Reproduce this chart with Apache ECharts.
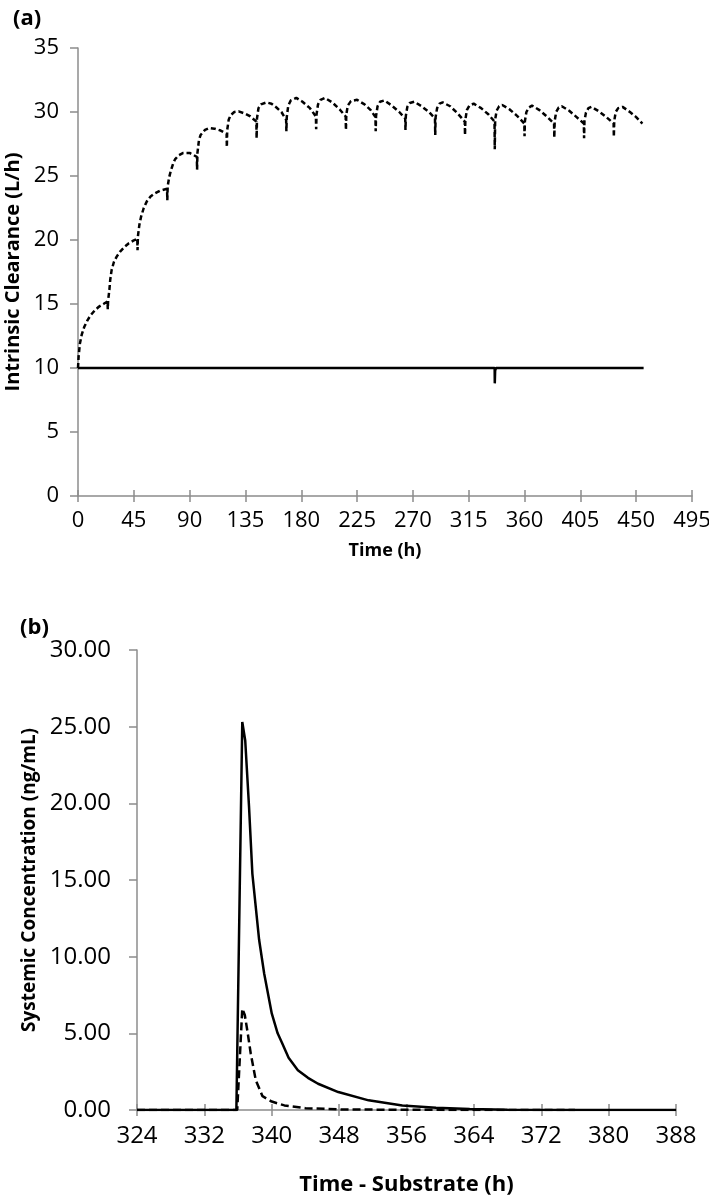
<!DOCTYPE html>
<html>
<head>
<meta charset="utf-8">
<script src="https://cdn.jsdelivr.net/npm/echarts@6/dist/echarts.min.js"></script>
<style>
  html, body { margin: 0; padding: 0; background: #fff; }
  #chart { width: 709px; height: 1204px; }
</style>
</head>
<body>
<div id="chart"></div>
<script>
// panel (a): intrinsic clearance over time, [time h, CL L/h]
const clTicksX = [0, 495, 45];
const clTicksY = [0, 35, 5];
const inducedCL = [
  [0, 10], [0.5, 10.9], [1.5, 11.9], [3, 12.6], [5, 13.2], [7.5, 13.7], [10, 14.1], [13.5, 14.5], [17, 14.8], [20.5, 15.0], [23.8, 15.2],
  [24, 14.6], [24.3, 15.3], [25.3, 16.1], [26, 16.9], [27.1, 17.65], [29, 18.3], [31.2, 18.7], [34, 19.1], [37.9, 19.5], [41, 19.75], [44.6, 19.95], [47.8, 20.1],
  [48, 19.2], [48.3, 20.3], [49.5, 21.2], [50.8, 21.8], [53, 22.5], [55.4, 23.0], [58.5, 23.4], [62.1, 23.65], [66, 23.85], [71.8, 24.0],
  [72, 23.1], [72.3, 24.2], [73.5, 24.9], [74.8, 25.4], [76.5, 25.9], [78.2, 26.3], [81, 26.6], [84.9, 26.8], [90, 26.8], [95.8, 26.5],
  [96, 25.5], [96.3, 26.8], [97.5, 27.8], [98.8, 28.2], [102.4, 28.6], [106, 28.75], [110, 28.7], [115, 28.55], [119.8, 28.3],
  [120, 27.25], [120.3, 28.6], [121.5, 29.4], [123, 29.75], [126, 30.0], [129.5, 30.05], [134, 29.9], [139, 29.65], [143.8, 29.25],
  [144, 27.95], [144.3, 29.5], [145.5, 30.3], [147.5, 30.6], [152, 30.75], [156, 30.65], [160, 30.35], [164, 30.0], [167.8, 29.4],
  [168, 28.5], [168.3, 29.6], [169.5, 30.5], [171.5, 30.9], [176, 31.1], [181, 30.8], [187, 30.3], [191.8, 29.65],
  [192, 28.65], [192.3, 29.8], [193.5, 30.6], [195.5, 30.95], [199, 31.1], [205, 30.75], [211, 30.2], [215.8, 29.65],
  [216, 28.6], [216.3, 29.8], [217.5, 30.5], [220, 30.85], [225, 30.95], [231, 30.6], [236, 30.15], [239.8, 29.6],
  [240, 28.5], [240.3, 29.7], [241.5, 30.45], [243.5, 30.8], [247, 30.9], [253, 30.5], [259, 30.0], [263.8, 29.5],
  [264, 28.6], [264.3, 29.7], [265.5, 30.4], [267.5, 30.7], [271, 30.8], [277, 30.45], [283, 30.0], [287.8, 29.5],
  [288, 28.2], [288.3, 29.6], [289.5, 30.3], [291.5, 30.65], [294, 30.75], [300, 30.45], [306, 29.9], [311.8, 29.25],
  [312, 28.2], [312.3, 29.4], [313.5, 30.15], [315.5, 30.5], [319, 30.65], [325, 30.3], [331, 29.8], [335.8, 29.25],
  [336, 27.1], [336.3, 29.4], [337.5, 30.1], [339.5, 30.45], [342, 30.55], [348, 30.2], [354, 29.7], [359.8, 29.1],
  [360, 28.1], [360.3, 29.3], [361.5, 30.0], [363.5, 30.35], [366, 30.5], [372, 30.15], [378, 29.65], [383.8, 29.1],
  [384, 28.0], [384.3, 29.3], [385.5, 30.0], [387.5, 30.35], [390, 30.45], [396, 30.1], [402, 29.6], [407.8, 29.1],
  [408, 27.95], [408.3, 29.3], [409.5, 29.95], [411.5, 30.3], [414, 30.4], [420, 30.05], [426, 29.6], [431.8, 29.1],
  [432, 28.05], [432.3, 29.3], [433.5, 30.0], [435.5, 30.3], [439, 30.4], [445, 30.0], [450, 29.6], [455, 29.1]
];
const controlCL = [[0, 10], [335.9, 10], [336, 8.8], [336.3, 9.8], [337, 10], [456, 10]];

// panel (b): substrate concentration, [time h, ng/mL]
const concTicksX = [324, 388, 8];
const concTicksY = [0, 30, 5];
const concSolid = [
  [324, 0], [335.8, 0], [336.5, 25.3], [336.85, 24.1], [337.3, 19.8], [337.7, 15.4], [338.5, 11.1], [339.1, 8.9],
  [340, 6.3], [340.7, 5.0], [341.2, 4.4], [342, 3.4], [343.1, 2.6], [344.3, 2.1], [345.5, 1.71], [347.9, 1.17],
  [351.5, 0.63], [355.5, 0.3], [359.5, 0.15], [363.5, 0.06], [368, 0.02], [376, 0], [388, 0]
];
const concDashed = [
  [324, 0], [335.9, 0], [336.5, 6.6], [336.8, 6.2], [337.15, 5.0], [337.5, 3.7], [338.1, 1.95], [338.9, 0.9],
  [340, 0.55], [341.5, 0.3], [344, 0.12], [348, 0.04], [356, 0.01], [376, 0]
];

const chart = echarts.init(document.getElementById("chart"));

const FONT = "Open Sans";
const axisGrey = "#8c8c8c";

function xAxes(grid, ticks, name, nameGap, fontSize, nameSize) {
  const base = {
    type: "value",
    gridIndex: grid,
    position: "bottom",
    offset: 0,
    min: ticks[0],
    max: ticks[1],
    interval: ticks[2],
    splitLine: { show: false },
  };
  return [
    Object.assign({}, base, {
      name: name,
      nameLocation: "middle",
      nameGap: nameGap,
      nameTextStyle: { fontFamily: FONT, fontWeight: "bold", fontSize: nameSize, color: "#000" },
      axisLine: { lineStyle: { color: axisGrey, width: 1.5 } },
      axisTick: { show: true, length: 6, lineStyle: { color: axisGrey, width: 1.5 } },
      axisLabel: { fontFamily: FONT, fontSize: fontSize, color: "#000", margin: 14 },
    }),
    // second copy only for the inward half of the crossing ticks
    Object.assign({}, base, {
      axisLine: { show: false },
      axisTick: { show: true, inside: true, length: 6, lineStyle: { color: axisGrey, width: 1.5 } },
      axisLabel: { show: false },
    }),
  ];
}

function yAxis(grid, ticks, name, nameGap, fontSize, nameSize, margin, fmt) {
  return {
    type: "value",
    gridIndex: grid,
    min: ticks[0],
    max: ticks[1],
    interval: ticks[2],
    name: name,
    nameLocation: "middle",
    nameRotate: 90,
    nameGap: nameGap,
    nameTextStyle: { fontFamily: FONT, fontWeight: "bold", fontSize: nameSize, color: "#000" },
    splitLine: { show: false },
    axisLine: { show: true, lineStyle: { color: axisGrey, width: 1.5 } },
    axisTick: { show: true, length: 8, lineStyle: { color: axisGrey, width: 1.5 } },
    axisLabel: { fontFamily: FONT, fontSize: fontSize, color: "#000", margin: margin, formatter: fmt },
  };
}

function line(data, x, y, dash) {
  return {
    type: "line",
    xAxisIndex: x,
    yAxisIndex: y,
    data: data,
    showSymbol: false,
    symbol: "none",
    animation: false,
    lineStyle: { color: "#000", width: 2.5, type: dash || "solid" },
    z: dash ? 3 : 2,
  };
}

chart.setOption({
  backgroundColor: "#fff",
  title: [
    { text: "(a)", left: 8, top: 3, textStyle: { fontFamily: FONT, fontWeight: "bold", fontSize: 22, color: "#000" } },
    { text: "(b)", left: 15, top: 612, textStyle: { fontFamily: FONT, fontWeight: "bold", fontSize: 22, color: "#000" } },
  ],
  grid: [
    { left: 78, right: 17, top: 48, height: 448, outerBoundsMode: "none" },
    { left: 137, right: 33, top: 650, height: 460, outerBoundsMode: "none" },
  ],
  xAxis: [
    ...xAxes(0, clTicksX, "Time (h)", 46, 22, 18),
    ...xAxes(1, concTicksX, "Time - Substrate (h)", 64, 24, 22),
  ],
  yAxis: [
    yAxis(0, clTicksY, "Intrinsic Clearance (L/h)", 51, 22, 20, 19),
    yAxis(1, concTicksY, "Systemic Concentration (ng/mL)", 98, 24, 19, 26, (v) => v.toFixed(2)),
  ],
  series: [
    line(controlCL, 0, 0),
    line(inducedCL, 0, 0, [5, 3]),
    line(concSolid, 2, 1),
    line(concDashed, 2, 1, [8, 4]),
  ],
});
</script>
</body>
</html>
